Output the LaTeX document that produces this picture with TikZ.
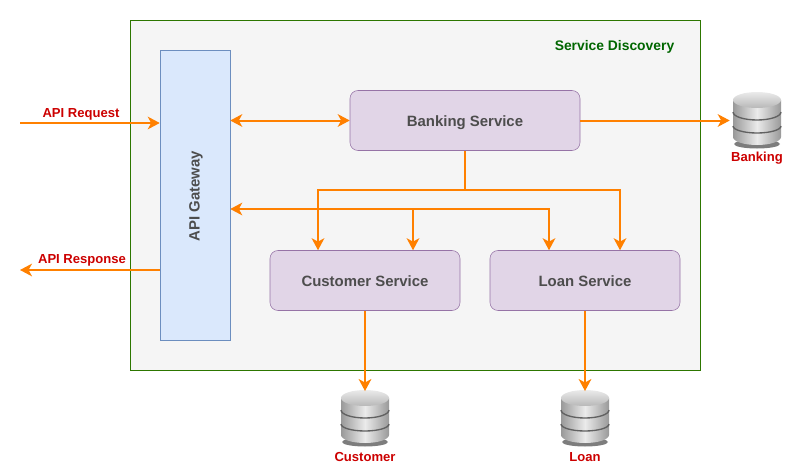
\documentclass[tikz,border=0pt]{standalone}
\usepackage{fontspec}
\setmainfont{Liberation Sans}
\usetikzlibrary{arrows.meta}
\definecolor{flowline}{HTML}{FF8000}
\definecolor{labelred}{HTML}{CC0000}
\definecolor{discgreen}{HTML}{006600}
\definecolor{discborder}{HTML}{2D7600}
\definecolor{discfill}{HTML}{F5F5F5}
\definecolor{gatefill}{HTML}{DAE8FC}
\definecolor{gateborder}{HTML}{6C8EBF}
\definecolor{servfill}{HTML}{E1D5E7}
\definecolor{servborder}{HTML}{9673A6}
\definecolor{textgray}{HTML}{4D4D4D}
\tikzset{
	flowtip/.tip={Stealth[length=9pt,width=9.5pt,inset=2.6pt]},
	flow/.style={flowline,line width=1.5pt,-flowtip},
	flowboth/.style={flowline,line width=1.5pt,flowtip-flowtip},
	servicebox/.style={draw=servborder,fill=servfill,rounded corners=6pt,minimum width=142.5pt,minimum height=45pt,inner sep=0pt,text height=8.5pt,text depth=0pt,font=\bfseries\fontsize{11.2}{13}\selectfont,text=textgray},
	redlabel/.style={text=labelred,inner sep=0pt,font=\bfseries\fontsize{9.8}{11}\selectfont},
	dbspot/.style={minimum width=40.5pt,minimum height=40pt,inner sep=0pt}
}
\newcommand{\dbicon}[3]{
	\node [dbspot] (#1) at (#2,#3) {};
	\begin{scope}[shift={(#2,#3)}]
		\fill [black!85,opacity=0.6] (0,-24) ellipse [x radius=23,y radius=4.5];
		\path [left color=black!40,right color=black!40,middle color=black!8] (-24,20) -- (-24,-17) arc [start angle=180,end angle=360,x radius=24,y radius=8] -- (24,20) -- cycle;
		\path [top color=black!8,bottom color=black!28] (0,20) ellipse [x radius=24,y radius=8];
		\draw [black!62,line width=1pt] (-24,8) arc [start angle=180,end angle=360,x radius=24,y radius=8];
		\draw [black!62,line width=1pt] (-24,-6) arc [start angle=180,end angle=360,x radius=24,y radius=7];
	\end{scope}
}
\begin{document}
\begin{tikzpicture}[x=0.75pt,y=0.75pt]
	\useasboundingbox (0,0) rectangle (801,-471);
	\node [draw=discborder,fill=discfill,minimum width=427.5pt,minimum height=262.5pt,inner sep=0pt] (discovery) at (415,-195) {};
	\node [text=discgreen,inner sep=0pt,font=\bfseries\fontsize{10.4}{12}\selectfont] (discoverylabel) at (614.5,-47) {Service Discovery};
	\node [draw=gateborder,fill=gatefill,minimum width=52.5pt,minimum height=217.5pt,inner sep=0pt] (gateway) at (195,-195) {};
	\node [rotate=90,inner sep=0pt,text=textgray,font=\bfseries\fontsize{11.2}{13}\selectfont] (gatewaylabel) at (196,-196) {API Gateway};
	\node [servicebox,minimum width=172.5pt] (banking) at (465,-120.5) {Banking Service};
	\node [servicebox] (customer) at (365,-280.5) {Customer Service};
	\node [servicebox] (loan) at (585,-280.5) {Loan Service};

	\dbicon{bankingdb}{757}{-120}
	\dbicon{customerdb}{365}{-418}
	\dbicon{loandb}{585}{-418}
	\node [redlabel] (bankinglabel) at (757,-158) {Banking};
	\node [redlabel] (customerlabel) at (365,-457) {Customer};
	\node [redlabel] (loanlabel) at (585,-457) {Loan};

	\coordinate (requeststart) at (20,-123);
	\coordinate (responseend) at (20,-270);
	\coordinate (bankdown) at (465,-190);
	\coordinate (gatewayjoin) at (413,-209);
	\draw [flow] (requeststart) -- (requeststart -| gateway.west);
	\draw [flow] (responseend -| gateway.west) -- (responseend);
	\node [redlabel] (requestlabel) at (81,-114) {API Request};
	\node [redlabel] (responselabel) at (82,-260) {API Response};

	\draw [flowboth] (gateway.east |- banking.west) -- (banking.west);
	\draw [flow] (banking.east) -- (banking.east -| bankingdb.west);
	\draw [flow] (customer.south) -- (customerdb.north);
	\draw [flow] (loan.south) -- (loandb.north);

	\draw [flow] (banking.south) -- (bankdown) -| ([xshift=-35.25pt]customer.north);
	\draw [flow] (bankdown) -| ([xshift=26.25pt]loan.north);
	\draw [flowboth] (gatewayjoin -| gateway.east) -| ([xshift=-27pt]loan.north);
	\draw [flow] (gatewayjoin) -- ([xshift=36pt]customer.north);
\end{tikzpicture}
\end{document}
